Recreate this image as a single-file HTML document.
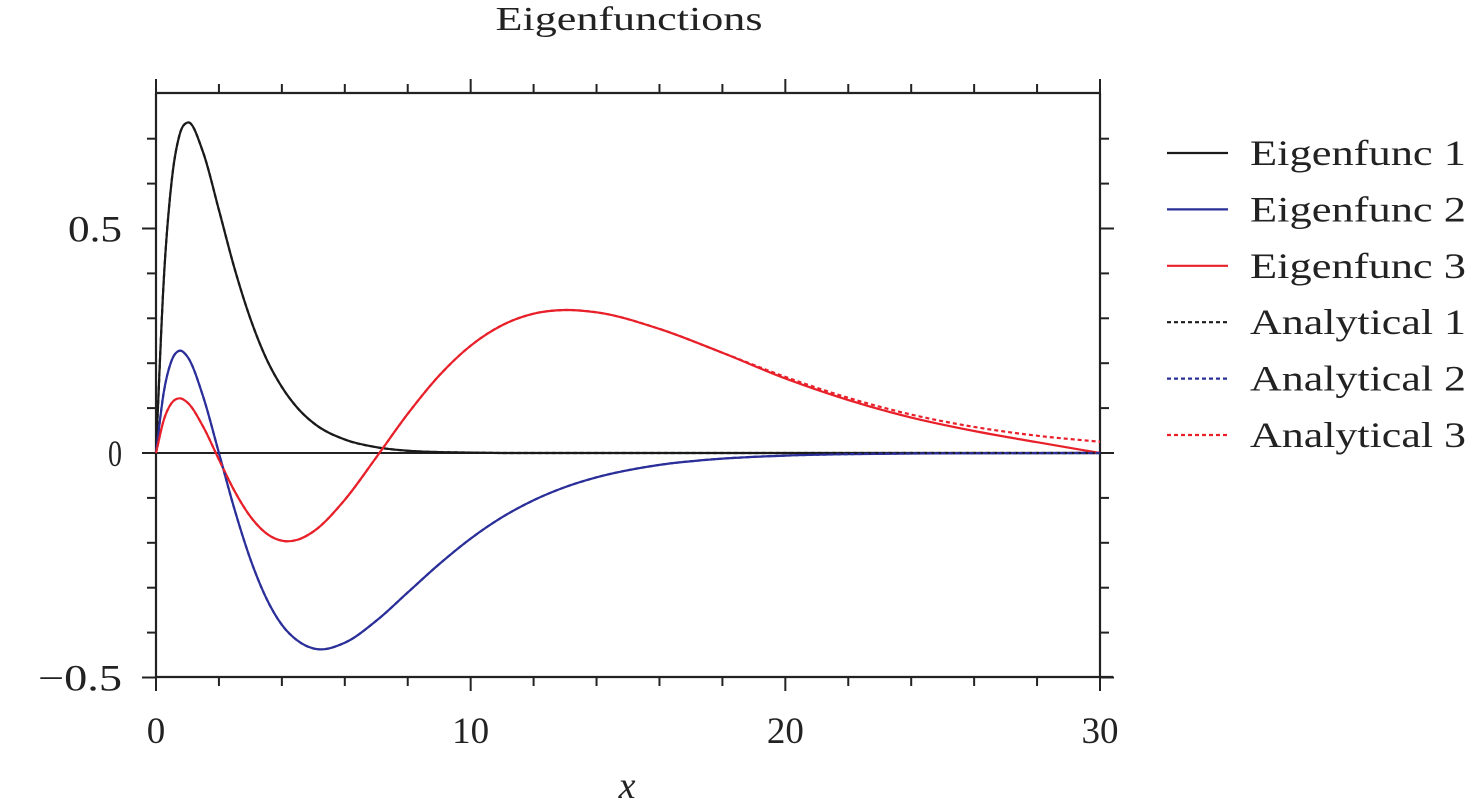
<!DOCTYPE html>
<html><head><meta charset="utf-8"><style>
body{margin:0;background:#fff}
svg text{font-family:"Liberation Serif",serif;fill:#222}
</style></head><body>
<svg id="chart" width="1473" height="801" viewBox="0 0 1473 801" xmlns="http://www.w3.org/2000/svg">
<text x="629" y="30" font-size="34" text-anchor="middle" textLength="267" lengthAdjust="spacingAndGlyphs">Eigenfunctions</text>
<g id="axes"></g>
<g id="series"></g>
<g id="legend"></g>
<text x="627" y="798" font-size="38" font-style="italic" text-anchor="middle">x</text>
</svg>
<script>
const xs = [0,0.25,0.5,0.75,1,1.5,2,2.5,3,3.5,4,4.5,5,6,7,8,9,10,11,12,13,14,16,18,20,22,24,26,28,30];
const eig1 = [0,0.389,0.607,0.709,0.736,0.669,0.541,0.410,0.299,0.211,0.147,0.100,0.067,0.030,0.013,0.005,0.002,0.001,0,0,0,0,0,0,0,0,0,0,0,0];
const eig2 = [0,0.1365,0.2065,0.2278,0.2144,0.1253,0,-0.1266,-0.2366,-0.3226,-0.3827,-0.4180,-0.4354,-0.4225,-0.3737,-0.3106,-0.2475,-0.1906,-0.1430,-0.1052,-0.0760,-0.0542,-0.0265,-0.0126,-0.0058,-0.0026,-0.0011,-0.0005,-0.0002,0];
const eig3 = [0,0.0742,0.1116,0.1218,0.1124,0.0584,-0.0146,-0.0853,-0.1416,-0.1787,-0.1954,-0.1932,-0.1750,-0.1042,-0.0097,0.0872,0.1725,0.2390,0.2846,0.3103,0.3185,0.3133,0.2764,0.2233,0.1660,0.1180,0.0790,0.0490,0.0240,0];
const ana1 = [0,0.389,0.607,0.709,0.736,0.669,0.541,0.410,0.299,0.211,0.147,0.100,0.067,0.030,0.013,0.005,0.002,0.001,0,0,0,0,0,0,0,0,0,0,0,0];
const ana2 = [0,0.1365,0.2065,0.2278,0.2144,0.1253,0,-0.1266,-0.2366,-0.3226,-0.3827,-0.4180,-0.4354,-0.4225,-0.3737,-0.3106,-0.2475,-0.1906,-0.1430,-0.1052,-0.0760,-0.0542,-0.0265,-0.0126,-0.0058,-0.0026,-0.0011,-0.0005,-0.0002,0];
const ana3 = [0,0.0742,0.1116,0.1218,0.1124,0.0584,-0.0146,-0.0853,-0.1416,-0.1787,-0.1954,-0.1932,-0.1750,-0.1042,-0.0097,0.0872,0.1725,0.2390,0.2846,0.3103,0.3185,0.3133,0.2764,0.2233,0.1695,0.1229,0.0856,0.0581,0.0385,0.0250];
const xTicks = [0,10,20,30];
const xTickLabels = ["0","10","20","30"];
const yTicks = [-0.5,0,0.5];
const yTickLabels = ["\u22120.5","0","0.5"];
const seriesNames = ["Eigenfunc 1","Eigenfunc 2","Eigenfunc 3","Analytical 1","Analytical 2","Analytical 3"];

const NS="http://www.w3.org/2000/svg";
const X0=156,X1=1100,Y0=677,Y1=93;
function sx(v){return X0+v/30*(X1-X0);}
function sy(v){return 453-v*449;}
function mk(tag,attrs,parent){const e=document.createElementNS(NS,tag);for(const k in attrs)e.setAttribute(k,attrs[k]);parent.appendChild(e);return e;}
const axes=document.getElementById('axes');
const C="#222";
let l;
l=mk('line',{x1:X0,y1:Y0,x2:1113,y2:Y0,stroke:C,'stroke-width':2.2},axes);

l=mk('line',{x1:X0,y1:Y1,x2:X1,y2:Y1,stroke:C,'stroke-width':2.2},axes);

l=mk('line',{x1:X0,y1:Y1,x2:X0,y2:Y0,stroke:C,'stroke-width':2.2},axes);

l=mk('line',{x1:X1,y1:Y1,x2:X1,y2:Y0,stroke:C,'stroke-width':2.2},axes);

l=mk('line',{x1:X0,y1:sy(0),x2:1113,y2:sy(0),stroke:C,'stroke-width':2},axes);

for(let v=0;v<=30;v+=2){
  const maj=v%10===0, len=maj?14:9, x=sx(v);
  l=mk('line',{x1:x,y1:Y0,x2:x,y2:Y0+len,stroke:C,'stroke-width':2},axes);
  
  l=mk('line',{x1:x,y1:Y1,x2:x,y2:Y1-len,stroke:C,'stroke-width':2},axes);
  
}
xTicks.forEach((v,i)=>{const t=mk('text',{x:sx(v),y:743,'font-size':37,'text-anchor':'middle'},axes);t.textContent=xTickLabels[i];
});
for(let k=-5;k<=7;k++){
  const v=k/10, maj=k%5===0, len=maj?14:9, y=sy(v);
  l=mk('line',{x1:X0-len,y1:y,x2:X0,y2:y,stroke:C,'stroke-width':2},axes);
  
  l=mk('line',{x1:X1,y1:y,x2:X1+len,y2:y,stroke:C,'stroke-width':2},axes);
  
}
const yW=[84,14,54];
yTicks.forEach((v,i)=>{const t=mk('text',{x:122,y:sy(v)+13,'font-size':37,'text-anchor':'end',textLength:yW[i],lengthAdjust:'spacingAndGlyphs'},axes);t.textContent=yTickLabels[i];
});
function pathD(xv,yv){
  const n=xv.length, m=[];
  for(let i=0;i<n;i++){
    if(i===0) m.push((yv[1]-yv[0])/(xv[1]-xv[0]));
    else if(i===n-1) m.push((yv[n-1]-yv[n-2])/(xv[n-1]-xv[n-2]));
    else {const h0=xv[i]-xv[i-1],h1=xv[i+1]-xv[i];const d0=(yv[i]-yv[i-1])/h0,d1=(yv[i+1]-yv[i])/h1;m.push((d0*h1+d1*h0)/(h0+h1));}
  }
  let d=`M${sx(xv[0])},${sy(yv[0])}`;
  for(let i=0;i<n-1;i++){
    const h=xv[i+1]-xv[i];
    d+=` C${sx(xv[i]+h/3)},${sy(yv[i]+m[i]*h/3)} ${sx(xv[i+1]-h/3)},${sy(yv[i+1]-m[i+1]*h/3)} ${sx(xv[i+1])},${sy(yv[i+1])}`;
  }
  return d;
}
const sg=document.getElementById('series');
const defs=[[eig1,"#1a1a1a",null,"eigenfunc-1-line"],[eig2,"#2b2f99",null,"eigenfunc-2-line"],[eig3,"#e8202a",null,"eigenfunc-3-line"],
[ana1,"#1a1a1a","4 3","analytical-1-line"],[ana2,"#2b2f99","4 3","analytical-2-line"],[ana3,"#e8202a","4 3","analytical-3-line"]];
defs.forEach(d=>{const a={d:pathD(xs,d[0]),fill:'none',stroke:d[1],'stroke-width':2.2};if(d[2])a['stroke-dasharray']=d[2];
const p=mk('path',a,sg);});
const lg=document.getElementById('legend');
const lw=[216,216,216,216,216,216];
seriesNames.forEach((n,i)=>{const y=153+i*56.4;const d=defs[i];
const a={x1:1167,y1:y,x2:1228,y2:y,stroke:d[1],'stroke-width':2.2};if(d[2])a['stroke-dasharray']=d[2];
const ln=mk('line',a,lg);
const t=mk('text',{x:1250,y:y+12,'font-size':36,textLength:lw[i],lengthAdjust:'spacingAndGlyphs'},lg);t.textContent=n;
});
</script>
</body></html>
